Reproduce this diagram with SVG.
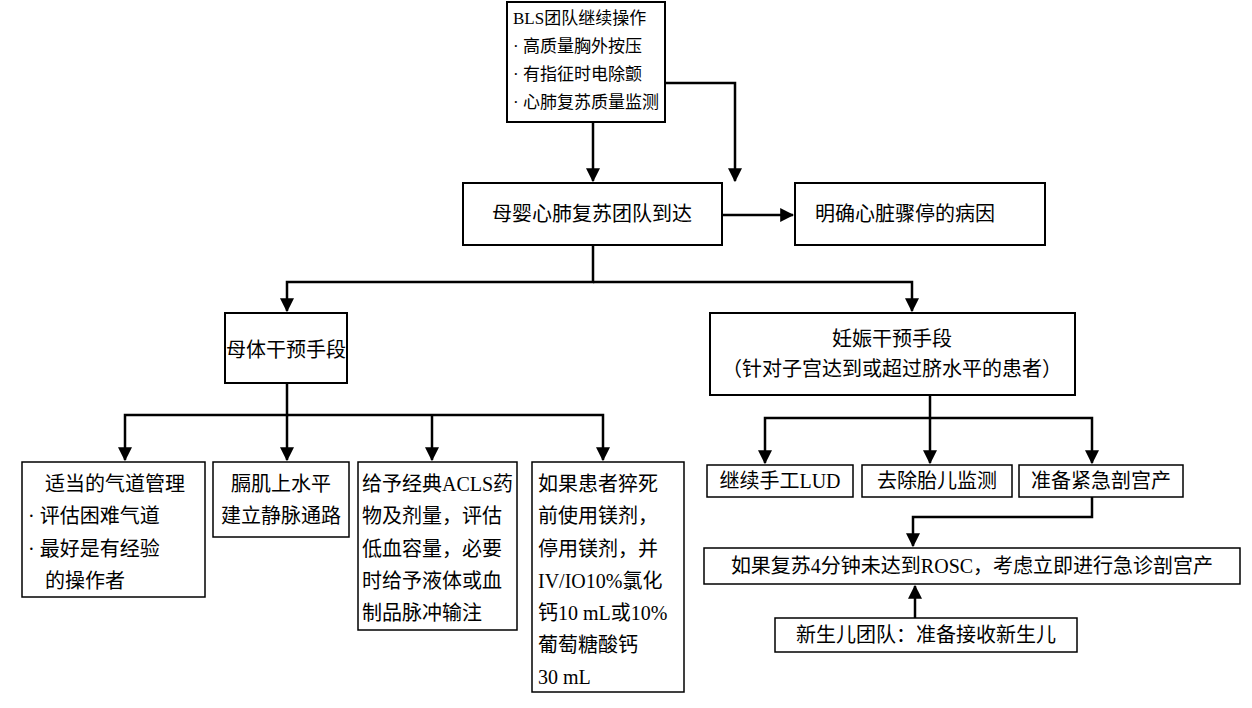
<svg xmlns="http://www.w3.org/2000/svg" width="1252" height="708" viewBox="0 0 1252 708">
<defs>
<marker id="a" viewBox="0 0 12 12" refX="11" refY="6" markerWidth="14" markerHeight="14" markerUnits="userSpaceOnUse" orient="auto"><path d="M0,0 L12,6 L0,12 z" fill="#000"/></marker>
</defs>
<style>
rect{fill:#fff;stroke:#000;stroke-width:2}
text{font-family:"Liberation Serif","Noto Sans CJK SC",serif;font-size:20px;fill:#000}
.c{text-anchor:middle}
.s{font-size:17px}
.l{fill:none;stroke:#000;stroke-width:2.5}
</style>
<rect width="1252" height="708" style="stroke:none"/>
<g id="connectors">
<path class="l" d="M593,122 V181" marker-end="url(#a)"/>
<path class="l" d="M665,83 H735 V181" marker-end="url(#a)"/>
<path class="l" d="M722,215 H793" marker-end="url(#a)"/>
<path class="l" d="M593,245 V282 H287 V311" marker-end="url(#a)"/>
<path class="l" d="M593,282 H912 V311" marker-end="url(#a)"/>
<path class="l" d="M287,383 V415 H125 V460" marker-end="url(#a)"/>
<path class="l" d="M287,415 V460" marker-end="url(#a)"/>
<path class="l" d="M287,415 H603 V460" marker-end="url(#a)"/>
<path class="l" d="M432,415 V460" marker-end="url(#a)"/>
<path class="l" d="M930,395 V418 H765 V463" marker-end="url(#a)"/>
<path class="l" d="M930,418 V463" marker-end="url(#a)"/>
<path class="l" d="M930,418 H1092 V463" marker-end="url(#a)"/>
<path class="l" d="M1092,497 V517 H913 V546" marker-end="url(#a)"/>
<path class="l" d="M915,618 V586" marker-end="url(#a)"/>
</g>
<g id="bls"><rect x="507" y="2" width="158" height="120"/>
<text class="s" x="513" y="24">BLS团队继续操作</text><text class="s" x="513" y="52">· 高质量胸外按压</text><text class="s" x="513" y="80">· 有指征时电除颤</text><text class="s" x="513" y="108">· 心肺复苏质量监测</text></g>
<g id="team"><rect x="463" y="183" width="259" height="62"/><text class="c" x="592" y="221">母婴心肺复苏团队到达</text></g>
<g id="cause"><rect x="795" y="183" width="250" height="62"/><text x="815" y="221">明确心脏骤停的病因</text></g>
<g id="mother"><rect x="225" y="313" width="122" height="70"/><text class="c" x="286" y="357">母体干预手段</text></g>
<g id="preg"><rect x="710" y="313" width="365" height="82"/><text class="c" x="892" y="346">妊娠干预手段</text><text class="c" x="892" y="376">（针对子宫达到或超过脐水平的患者）</text></g>
<g id="m1"><rect x="22" y="462" width="183" height="135" style="stroke-width:1.5"/>
<text x="45" y="491">适当的气道管理</text><text x="28" y="523">· 评估困难气道</text><text x="28" y="556">· 最好是有经验</text><text x="45" y="588">的操作者</text></g>
<g id="m2"><rect x="213" y="462" width="136" height="75" style="stroke-width:1.5"/>
<text class="c" x="281" y="491">膈肌上水平</text><text class="c" x="281" y="523">建立静脉通路</text></g>
<g id="m3"><rect x="358" y="462" width="159" height="168" style="stroke-width:1.5"/>
<text x="362" y="491">给予经典ACLS药</text><text x="362" y="523">物及剂量，评估</text><text x="362" y="556">低血容量，必要</text><text x="362" y="588">时给予液体或血</text><text x="362" y="620">制品脉冲输注</text></g>
<g id="m4"><rect x="532" y="462" width="152" height="230" style="stroke-width:1.5"/>
<text x="538" y="491">如果患者猝死</text><text x="538" y="523">前使用镁剂，</text><text x="538" y="556">停用镁剂，并</text><text x="538" y="588">IV/IO10%氯化</text><text x="538" y="620">钙10 mL或10%</text><text x="538" y="652">葡萄糖酸钙</text><text x="538" y="684">30 mL</text></g>
<g id="p1"><rect x="707" y="465" width="146" height="32" style="stroke-width:1.5"/><text class="c" x="780" y="488">继续手工LUD</text></g>
<g id="p2"><rect x="862" y="465" width="150" height="32" style="stroke-width:1.5"/><text class="c" x="937" y="488">去除胎儿监测</text></g>
<g id="p3"><rect x="1019" y="465" width="164" height="32" style="stroke-width:1.5"/><text class="c" x="1101" y="488">准备紧急剖宫产</text></g>
<g id="rosc"><rect x="704" y="548" width="536" height="36" style="stroke-width:1.5"/><text class="c" x="972" y="573">如果复苏4分钟未达到ROSC，考虑立即进行急诊剖宫产</text></g>
<g id="neo"><rect x="775" y="618" width="302" height="34" style="stroke-width:1.5"/><text class="c" x="926" y="642">新生儿团队：准备接收新生儿</text></g>
</svg>
